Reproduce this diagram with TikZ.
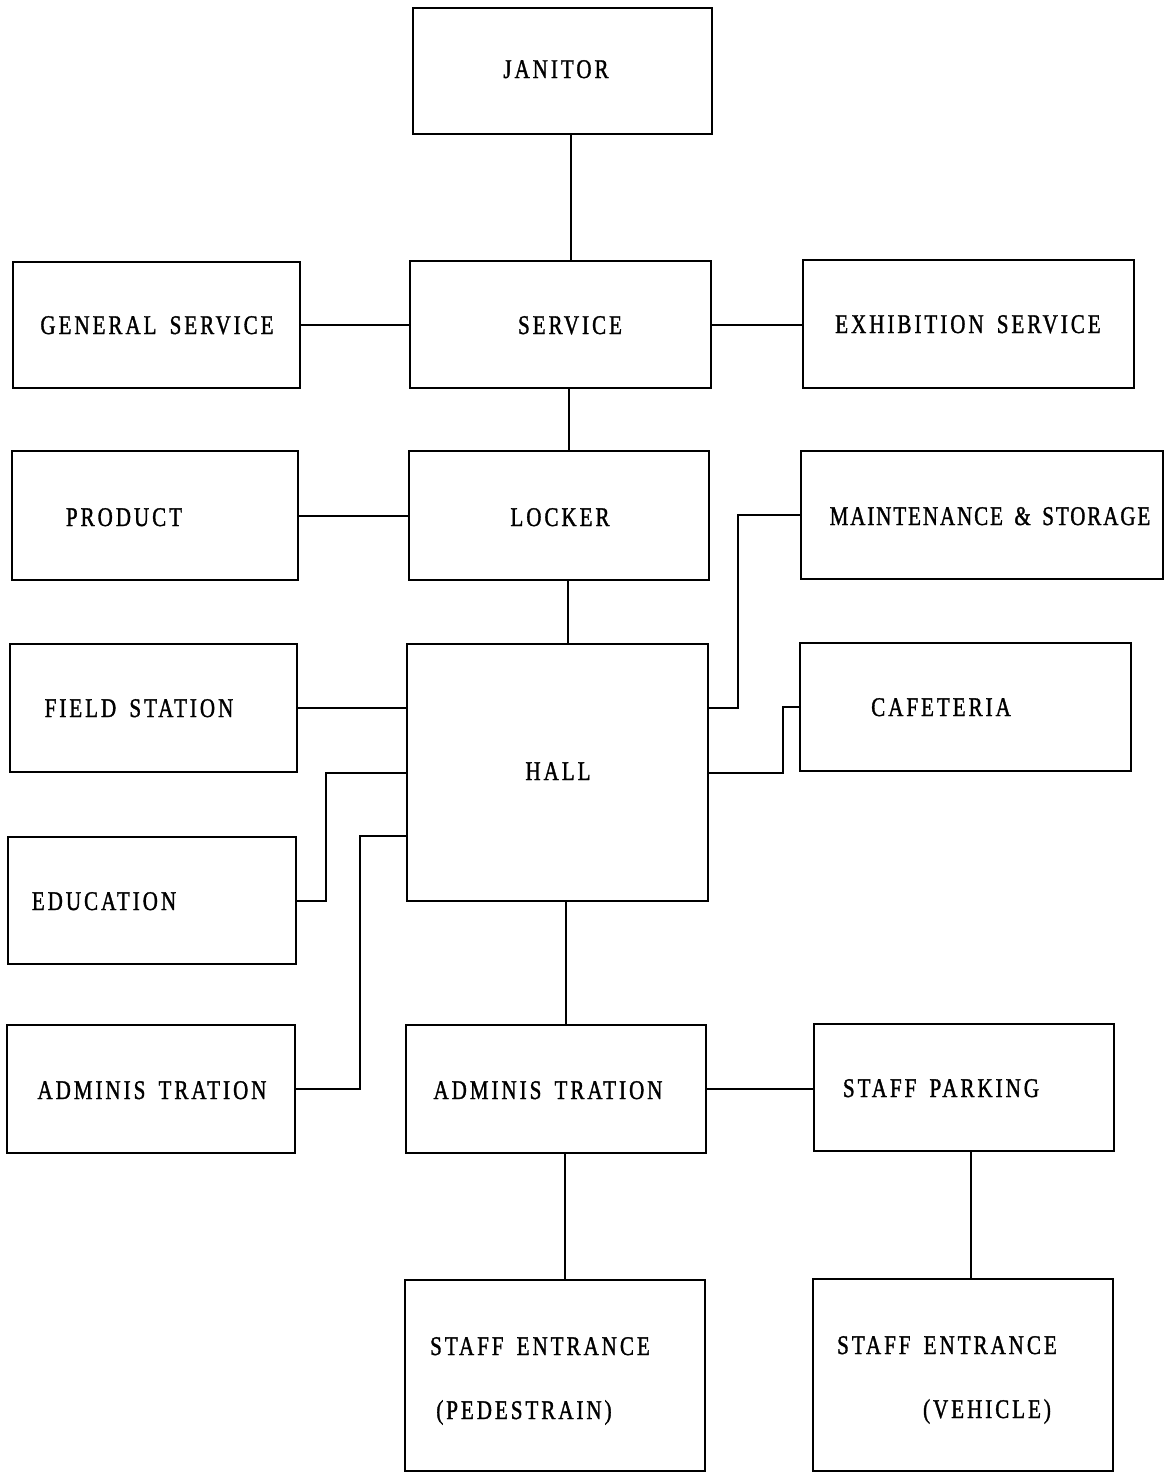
\documentclass[tikz,border=0pt]{standalone}
\usepackage{fontspec}
\usetikzlibrary{fit}
\newfontfamily\typeface[FakeStretch=0.78,LetterSpace=11,WordSpace=1.6,FakeBold=1.2]{Liberation Serif}
\begin{document}
\begin{tikzpicture}[x=0.5pt,y=-0.5pt,
  box/.style={draw, line width=1pt, inner sep=0pt},
  lbl/.style={anchor=base, inner sep=0pt, font=\typeface\fontsize{13.5}{16}\selectfont},
  link/.style={line width=1pt}]
\useasboundingbox[fill=white] (0,0) rectangle (1171,1473);

% boxes
\node[box, fit={(413,8) (712,134)}]      (jan) {};
\node[box, fit={(13,262) (300,388)}]     (gen) {};
\node[box, fit={(410,261) (711,388)}]    (srv) {};
\node[box, fit={(803,260) (1134,388)}]   (exh) {};
\node[box, fit={(12,451) (298,580)}]     (prd) {};
\node[box, fit={(409,451) (709,580)}]    (lck) {};
\node[box, fit={(801,451) (1163,579)}]   (mnt) {};
\node[box, fit={(10,644) (297,772)}]     (fld) {};
\node[box, fit={(407,644) (708,901)}]    (hal) {};
\node[box, fit={(800,643) (1131,771)}]   (caf) {};
\node[box, fit={(8,837) (296,964)}]      (edu) {};
\node[box, fit={(7,1025) (295,1153)}]    (adl) {};
\node[box, fit={(406,1025) (706,1153)}]  (adc) {};
\node[box, fit={(814,1024) (1114,1151)}] (prk) {};
\node[box, fit={(405,1280) (705,1471)}]  (sep) {};
\node[box, fit={(813,1279) (1113,1471)}] (sev) {};

% labels
\node[lbl] (jan-t) at (556,78)   {JANITOR};
\node[lbl] (gen-t) at (157,334)  {GENERAL SERVICE};
\node[lbl] (srv-t) at (570,334)  {SERVICE};
\node[lbl] (exh-t) at (968,333)  {EXHIBITION SERVICE};
\node[lbl] (prd-t) at (124,526)  {PRODUCT};
\node[lbl] (lck-t) at (560,526)  {LOCKER};
\node[lbl, font=\typeface\addfontfeature{LetterSpace=7}\fontsize{13.5}{16}\selectfont]
           (mnt-t) at (990,525)  {MAINTENANCE \& STORAGE};
\node[lbl] (fld-t) at (139,717)  {FIELD STATION};
\node[lbl] (caf-t) at (941,716)  {CAFETERIA};
\node[lbl] (hal-t) at (558,780)  {HALL};
\node[lbl] (edu-t) at (104,910)  {EDUCATION};
\node[lbl] (adl-t) at (152,1099) {ADMINIS TRATION};
\node[lbl] (adc-t) at (548,1099) {ADMINIS TRATION};
\node[lbl] (prk-t) at (941,1097) {STAFF PARKING};
\node[lbl] (sep-t) at (540,1355) {STAFF ENTRANCE};
\node[lbl] (sep-u) at (524,1419) {(PEDESTRAIN)};
\node[lbl] (sev-t) at (947,1354) {STAFF ENTRANCE};
\node[lbl] (sev-u) at (987,1418) {(VEHICLE)};

% routing columns
\coordinate (c571) at (571,0);
\coordinate (c569) at (569,0);
\coordinate (c568) at (568,0);
\coordinate (c566) at (566,0);
\coordinate (c565) at (565,0);
\coordinate (c971) at (971,0);
\coordinate (r1) at (738,0);
\coordinate (r2) at (783,0);
\coordinate (l1) at (326,0);
\coordinate (l2) at (360,0);

% connectors
\draw[link] (c571 |- jan.south) -- (c571 |- srv.north);
\draw[link] (gen.east) -- (gen.east -| srv.west);
\draw[link] (srv.east) -- (srv.east -| exh.west);
\draw[link] (c569 |- srv.south) -- (c569 |- lck.north);
\draw[link] (prd.east) -- (prd.east -| lck.west);
\draw[link] (c568 |- lck.south) -- (c568 |- hal.north);
\draw[link] (hal.east |- fld.east) -| (r1 |- mnt.west) -- (mnt.west);
\draw[link] (hal.east) -| (r2 |- caf.west) -- (caf.west);
\draw[link] (fld.east) -- (fld.east -| hal.west);
\draw[link] (hal.west) -| (l1 |- edu.east) -- (edu.east);
\draw[link] (hal.west |- edu.north) -| (l2 |- adl.east) -- (adl.east);
\draw[link] (c566 |- hal.south) -- (c566 |- adc.north);
\draw[link] (adc.east) -- (adc.east -| prk.west);
\draw[link] (c565 |- adc.south) -- (c565 |- sep.north);
\draw[link] (c971 |- prk.south) -- (c971 |- sev.north);
\end{tikzpicture}
\end{document}
